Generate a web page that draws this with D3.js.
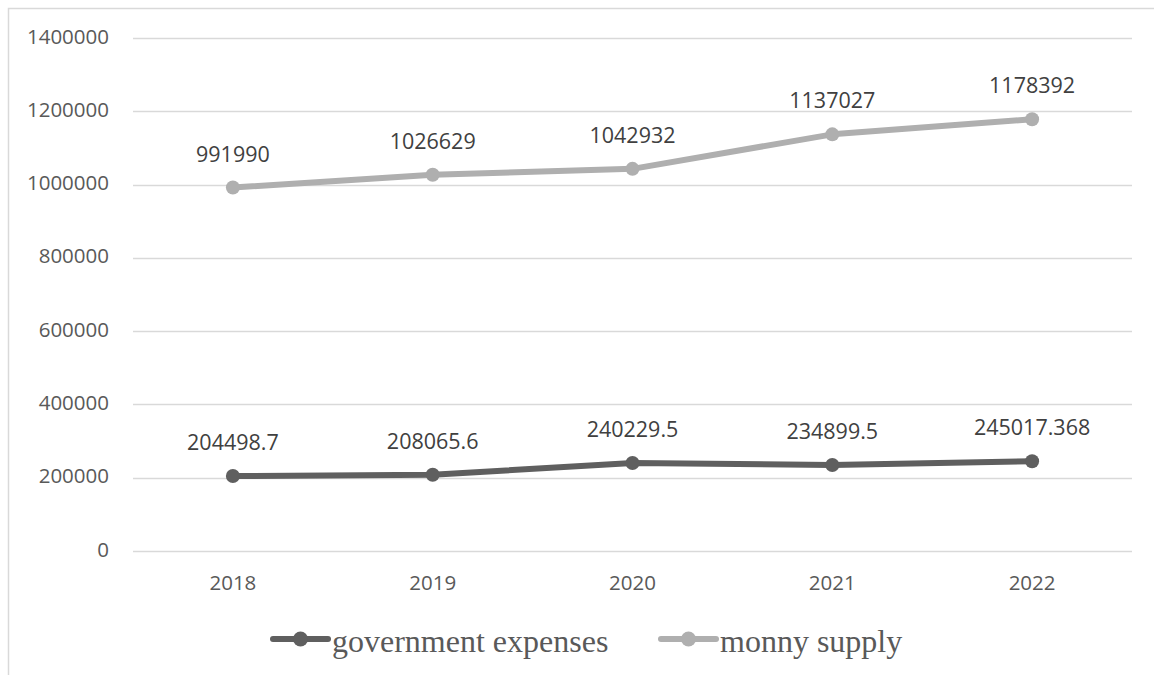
<!DOCTYPE html>
<html><head><meta charset="utf-8">
<script src="https://cdn.jsdelivr.net/npm/d3@7"></script>
<style>body{margin:0;background:#fff;} svg{display:block;}</style>
</head><body>
<svg id="c" width="1154" height="675"></svg>
<script>
const years = ["2018","2019","2020","2021","2022"];
const govExpenses = [204498.7, 208065.6, 240229.5, 234899.5, 245017.368];
const govLabels = ["204498.7","208065.6","240229.5","234899.5","245017.368"];
const moneySupply = [991990, 1026629, 1042932, 1137027, 1178392];
const moneyLabels = ["991990","1026629","1042932","1137027","1178392"];
const yTicks = [0,200000,400000,600000,800000,1000000,1200000,1400000];
const seriesNames = ["government expenses","monny supply"];

const svg = d3.select("#c");
// outer border (cropped)
svg.append("path").attr("d","M8.5,680 V8.5 H1160").attr("fill","none").attr("stroke","#d9d9d9").attr("stroke-width",1.5);

const x = d3.scaleBand().domain(years).range([133,1132]);
const y = d3.scaleLinear().domain([0,1400000]).range([551,38]);

// gridlines
svg.append("g").selectAll("line").data(yTicks).join("line")
  .attr("x1",133).attr("x2",1132)
  .attr("y1",d=>Math.round(y(d))+0.5).attr("y2",d=>Math.round(y(d))+0.5)
  .attr("stroke","#d9d9d9").attr("stroke-width",1.3);

const font = "'Open Sans', 'Liberation Sans', sans-serif";
// y labels
svg.append("g").selectAll("text").data(yTicks).join("text")
  .attr("x",109).attr("y",d=>y(d)+5.5)
  .attr("text-anchor","end").attr("font-family",font).attr("font-size",20.5)
  .attr("fill","#595959").text(d=>d);
// x labels
svg.append("g").selectAll("text").data(years).join("text")
  .attr("x",d=>x(d)+x.bandwidth()/2).attr("y",590)
  .attr("text-anchor","middle").attr("font-family",font).attr("font-size",20.5)
  .attr("fill","#595959").text(d=>d);

const cx = d=>x(d)+x.bandwidth()/2;
const series = [
  {vals:govExpenses, labels:govLabels, color:"#5f5f5f"},
  {vals:moneySupply, labels:moneyLabels, color:"#afafaf"}
];
series.forEach(s=>{
  const pts = years.map((yr,i)=>[cx(yr), y(s.vals[i])]);
  svg.append("path").attr("d",d3.line()(pts)).attr("fill","none")
    .attr("stroke",s.color).attr("stroke-width",6).attr("stroke-linejoin","round").attr("stroke-linecap","round");
  svg.append("g").selectAll("circle").data(pts).join("circle")
    .attr("cx",d=>d[0]).attr("cy",d=>d[1]).attr("r",7).attr("fill",s.color);
  svg.append("g").selectAll("text").data(pts).join("text")
    .attr("x",d=>d[0]).attr("y",(d)=>d[1]-26)
    .attr("text-anchor","middle").attr("font-family",font).attr("font-size",21.5)
    .attr("fill","#404040").text((d,i)=>s.labels[i]);
});

// legend
const leg = [{x:273, tx:332, color:"#5f5f5f", name:seriesNames[0]},{x:661, tx:720, color:"#afafaf",name:seriesNames[1]}];
leg.forEach(l=>{
  const g = svg.append("g");
  g.append("line").attr("x1",l.x).attr("x2",l.x+55).attr("y1",639).attr("y2",639)
    .attr("stroke",l.color).attr("stroke-width",6).attr("stroke-linecap","round");
  g.append("circle").attr("cx",l.x+27.5).attr("cy",639).attr("r",7.5).attr("fill",l.color);
  g.append("text").attr("x",l.tx).attr("y",652)
    .attr("font-family","'Liberation Serif', 'DejaVu Serif', serif").attr("font-size",32)
    .attr("fill","#595959").text(l.name);
});
</script>
</body></html>
